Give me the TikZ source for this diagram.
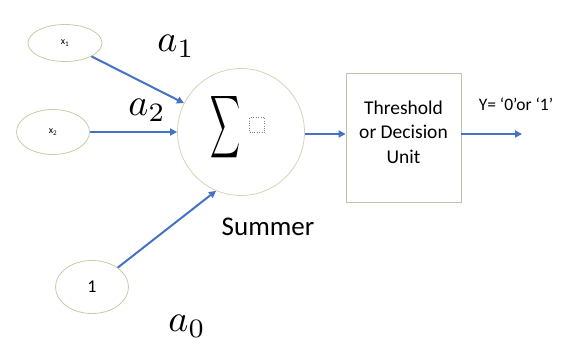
\documentclass[tikz,border=0pt]{standalone}
\usepackage{amsmath, amssymb}
\usepackage{fontspec}
\setmainfont{Carlito}
\usetikzlibrary{arrows.meta, positioning, shapes.geometric}
\definecolor{wireblue}{RGB}{68,114,196}
\definecolor{ringtan}{RGB}{205,200,165}
\definecolor{unitgreen}{RGB}{185,200,170}
\newcommand{\weightlabel}[1]{\scalebox{3.8}{$a_{#1}$}}

\begin{document}
\begin{tikzpicture}[x=1pt, y=-1pt,
    inputnode/.style={draw=ringtan, ellipse, inner sep=0pt, line width=0.8pt},
    wire/.style={-{Triangle[length=7pt, width=7pt]}, line width=2pt, wireblue}]
\useasboundingbox (0,0) rectangle (569,345);

% Inputs
\node[inputnode, minimum width=74pt, minimum height=37pt] (x1) at (65,43)
  {\fontsize{10}{10}\selectfont x\textsubscript{1}};
\node[inputnode, minimum width=73pt, minimum height=45pt] (x2) at (53,132)
  {\fontsize{10}{10}\selectfont x\textsubscript{2}};
\node[inputnode, minimum width=73pt, minimum height=53pt] (one) at (92,287)
  {\fontsize{18}{18}\selectfont 1};

% Summer
\node[circle, draw=ringtan!80!white, line width=0.8pt, minimum size=127pt, inner sep=0pt] (sum) at (241,132) {};
\node (sigma) at (225,127) {\resizebox{30pt}{46pt}{$\displaystyle\sum$}};
\node[draw=gray, dotted, minimum size=15pt, inner sep=0pt] (blank) at (257,125) {};
\node[font=\fontsize{27}{27}\selectfont] (sumlabel) at (268,227) {Summer};

% Threshold unit
\node[draw=unitgreen, line width=0.8pt, minimum width=115pt, minimum height=129pt] (unit) at (403.5,137.5) {};
\node[align=center, font=\fontsize{19.5}{24.5}\selectfont] (unitlabel) at (403.5,132) {Threshold\\or Decision\\Unit};
\coordinate (out) at (522,134);
\node[font=\fontsize{17.5}{18}\selectfont] (outlabel) at (516,104) {Y= ‘0’or ‘1’};

% Weights
\node (a1) at (176,46) {\weightlabel{1}};
\node (a2) at (147,110) {\weightlabel{2}};
\node (a0) at (187,326) {\weightlabel{0}};

% Arrows
\draw[wire] (x1) -- (sum);
\draw[wire] (x2) -- (sum);
\draw[wire] (one.37) -- (sum.247);
\draw[wire] (sum.east |- out) -- (unit.west |- out);
\draw[wire] (unit.east |- out) -- (out);

\end{tikzpicture}
\end{document}
